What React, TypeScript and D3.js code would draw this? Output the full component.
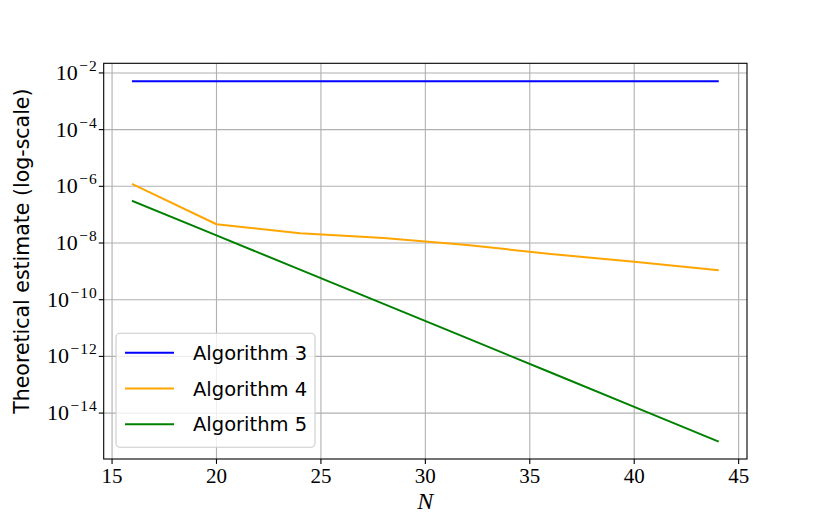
import React from "react";
import * as d3 from "d3";

const Ns = [16, 20, 24, 28, 32, 36, 40, 44];
const alg3 = [5.1e-3, 5.1e-3, 5.1e-3, 5.1e-3, 5.1e-3, 5.1e-3, 5.1e-3, 5.1e-3];
const alg4 = [1.17e-6, 4.6e-8, 2.2e-8, 1.5e-8, 8.5e-9, 4.1e-9, 2.2e-9, 1.1e-9];
const alg5 = [3.0e-7, 1.86e-8, 1.15e-9, 7.1e-11, 4.4e-12, 2.7e-13, 1.66e-14, 1.02e-15];

const seriesNames = ["Algorithm 3", "Algorithm 4", "Algorithm 5"];
const seriesColors = ["#0000ff", "#ffa500", "#008000"];
const xTicks = [15, 20, 25, 30, 35, 40, 45];
const yTickExps = [-2, -4, -6, -8, -10, -12, -14];

const W = 830;
const H = 525;
const L = 103.7, R = 747, T = 63.3, B = 459;

export default function App() {
  const x = d3.scaleLinear().domain([14.6, 45.4]).range([L, R]);
  const y = d3.scaleLog().domain([Math.pow(10, -15.62), Math.pow(10, -1.66)]).range([B, T]);
  const line = d3
    .line<[number, number]>()
    .x((d) => x(d[0]))
    .y((d) => y(d[1]));
  const series = [alg3, alg4, alg5].map((vals) => Ns.map((n, i) => [n, vals[i]] as [number, number]));

  const serif = "'Liberation Serif', 'DejaVu Serif', serif";
  const sans = "'DejaVu Sans', sans-serif";
  const legX = 116, legY = 333.3, legW = 199, legH = 114;

  return (
    <div style={{ position: "absolute", left: 0, top: 0 }}>
      <svg width={W} height={H} viewBox={`0 0 ${W} ${H}`} style={{ display: "block", background: "#fff" }}>
        <rect x={0} y={0} width={W} height={H} fill="#fff" />
        {/* grid */}
        <g stroke="#b0b0b0" strokeWidth={1.1}>
          {xTicks.map((t) => (
            <line key={"gx" + t} x1={x(t)} x2={x(t)} y1={T} y2={B} />
          ))}
          {yTickExps.map((e) => (
            <line key={"gy" + e} x1={L} x2={R} y1={y(Math.pow(10, e))} y2={y(Math.pow(10, e))} />
          ))}
        </g>
        {/* series */}
        {series.map((s, i) => (
          <path key={"s" + i} d={line(s) || ""} fill="none" stroke={seriesColors[i]} strokeWidth={2} strokeLinejoin="round" strokeLinecap="square" />
        ))}
        {/* spines */}
        <rect x={L} y={T} width={R - L} height={B - T} fill="none" stroke="#000" strokeWidth={1.1} />
        {/* x ticks */}
        {xTicks.map((t) => (
          <g key={"xt" + t}>
            <line x1={x(t)} x2={x(t)} y1={B} y2={B + 4.9} stroke="#000" strokeWidth={1.1} />
            <text x={x(t)} y={B + 24} textAnchor="middle" fontFamily={serif} fontSize={21} fill="#000">
              {t}
            </text>
          </g>
        ))}
        {/* y ticks */}
        {yTickExps.map((e) => (
          <g key={"yt" + e}>
            <line x1={L - 4.9} x2={L} y1={y(Math.pow(10, e))} y2={y(Math.pow(10, e))} stroke="#000" strokeWidth={1.1} />
            <text x={L - 6} y={y(Math.pow(10, e)) + 7} textAnchor="end" fontFamily={serif} fontSize={22} fill="#000">
              <tspan>10</tspan>
              <tspan dx={1.5} dy={-9} fontSize={15.5} letterSpacing={1}>{"\u2212" + Math.abs(e)}</tspan>
            </text>
          </g>
        ))}
        {/* axis labels */}
        <text x={(L + R) / 2} y={509} textAnchor="middle" fontFamily={serif} fontStyle="italic" fontSize={24} fill="#000">
          N
        </text>
        <text
          transform={`translate(29, ${(T + B) / 2 - 10}) rotate(-90)`}
          textAnchor="middle"
          fontFamily={sans}
          fontSize={20.5}
          fill="#000"
        >
          Theoretical estimate (log-scale)
        </text>
        {/* legend */}
        <rect x={legX} y={legY} width={legW} height={legH} rx={4} ry={4} fill="#fff" fillOpacity={0.8} stroke="#cccccc" strokeWidth={1.1} />
        {seriesNames.map((name, i) => {
          const ly = 352.7 + i * 35.8;
          return (
            <g key={"lg" + i}>
              <line x1={125} x2={174} y1={ly} y2={ly} stroke={seriesColors[i]} strokeWidth={2} />
              <text x={193} y={ly + 7} fontFamily={sans} fontSize={19.5} fill="#000">
                {name}
              </text>
            </g>
          );
        })}
      </svg>
    </div>
  );
}
